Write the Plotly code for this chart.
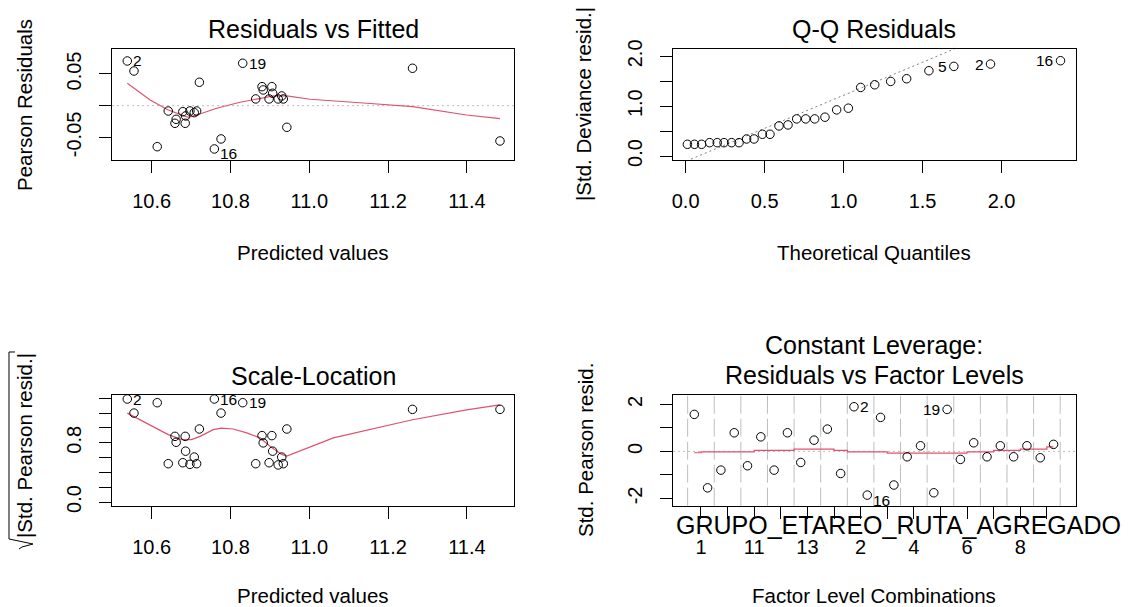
import numpy as np
import plotly.graph_objects as go

W, H = 1129, 607
FONT = "Liberation Sans, Arial, sans-serif"
RED = "#DF536B"
LIGHTGRAY = "#BEBEBE"
MIDGRAY = "#7F7F7F"

# ---- Residuals vs Fitted ----
fitted = [10.538, 10.555, 10.614, 10.642, 10.659, 10.662, 10.679, 10.685, 10.686, 10.697,
          10.708, 10.714, 10.721, 10.759, 10.776, 10.831, 10.864, 10.880, 10.883, 10.898,
          10.905, 10.907, 10.921, 10.930, 10.934, 10.943, 11.262, 11.484]
pearson_resid = [0.0705, 0.0547, -0.0647, -0.0084, -0.0278, -0.0215, -0.0095, -0.0278, -0.0162, -0.0084,
                 -0.0110, -0.0084, 0.0369, -0.0683, -0.0525, 0.0669, 0.0106, 0.0300, 0.0248, 0.0106,
                 0.0300, 0.0196, 0.0106, 0.0153, 0.0106, -0.0341, 0.0590, -0.0557]
rvf_smooth_x = [10.538, 10.596, 10.642, 10.680, 10.693, 10.722, 10.765, 10.824, 10.866, 10.909,
                10.943, 11.002, 11.146, 11.262, 11.399, 11.484]
rvf_smooth_y = [0.0353, 0.0090, -0.0068, -0.0162, -0.0183, -0.0131, -0.0041, 0.0054, 0.0101, 0.0153,
                0.0153, 0.0101, 0.0038, -0.0016, -0.0147, -0.0205]
rvf_labels = [(0, "2"), (13, "16"), (15, "19")]

# ---- Q-Q Residuals (half-normal) ----
qq_theoretical = [0.011, 0.056, 0.101, 0.152, 0.200, 0.243, 0.291, 0.338, 0.386, 0.433,
                  0.486, 0.534, 0.591, 0.648, 0.703, 0.760, 0.817, 0.882, 0.956, 1.030,
                  1.108, 1.197, 1.298, 1.399, 1.540, 1.698, 1.930, 2.373]
qq_abs_dev_resid = [0.235, 0.235, 0.235, 0.268, 0.268, 0.268, 0.268, 0.268, 0.342, 0.342,
                    0.436, 0.436, 0.604, 0.624, 0.745, 0.745, 0.745, 0.779, 0.926, 0.960,
                    1.376, 1.430, 1.497, 1.551, 1.712, 1.799, 1.846, 1.913]
qq_line_intercept = -0.108
qq_line_slope = 1.327
qq_labels = [(25, "5"), (26, "2"), (27, "16")]

# ---- Scale-Location ----
sqrt_abs_std_resid = [1.39, 1.20, 1.34, 0.517, 0.886, 0.806, 0.53, 0.886, 0.686, 0.508,
                      0.606, 0.517, 0.985, 1.39, 1.20, 1.34, 0.517, 0.896, 0.798, 0.53,
                      0.896, 0.686, 0.50, 0.606, 0.517, 0.985, 1.25, 1.25]
sl_smooth_x = [10.538, 10.596, 10.642, 10.676, 10.701, 10.723, 10.756, 10.777, 10.807, 10.841,
               10.875, 10.900, 10.930, 10.943, 11.061, 11.262, 11.399, 11.484]
sl_smooth_y = [1.199, 1.043, 0.909, 0.842, 0.842, 0.886, 0.976, 0.998, 0.985, 0.932,
               0.865, 0.753, 0.642, 0.619, 0.865, 1.110, 1.243, 1.310]
sl_labels = [(0, "2"), (13, "16"), (15, "19")]

# ---- Residuals vs Factor Levels ----
factor_name = "GRUPO_ETAREO_RUTA_AGREGADO"
factor_levels = ["1", "10", "11", "12", "13", "14", "2", "3", "4", "5", "6", "7", "8", "9"]
factor_std_resid = [1.574, -1.55, -0.796, 0.793, -0.61, 0.62, -0.796, 0.793, -0.47, 0.48,
                    0.949, -0.94, 1.90, -1.86, 1.447, -1.43, -0.23, 0.24, -1.76, 1.787,
                    -0.34, 0.366, -0.23, 0.24, -0.23, 0.24, -0.27, 0.30]
factor_smooth = [-0.058, -0.016, -0.016, -0.016, -0.016, 0.04, 0.04, 0.04, 0.098, 0.098,
                 0.098, 0.04, -0.016, -0.016, -0.016, -0.072, -0.072, -0.072, -0.072, -0.072,
                 -0.072, -0.016, -0.016, 0.04, 0.04, 0.098, 0.098, 0.197]
rfl_labels = [(12, "2"), (13, "16"), (19, "19")]

obs_per_level = 2
obs_pos = np.arange(len(factor_std_resid))
level_ticks = obs_per_level * (np.arange(len(factor_levels)) + 0.5) - 0.5
level_bounds = obs_per_level * np.arange(len(factor_levels) + 1) - 0.5
level_text = [lv if i % 2 == 0 else "" for i, lv in enumerate(factor_levels)]

# ---- panel geometry (pixels) ----
COLS = [(112, 514), (673, 1075.5)]
ROWS = [(49, 160), (395, 505.7)]


def xdom(c):
    return [COLS[c][0] / W, COLS[c][1] / W]


def ydom(r):
    return [1 - ROWS[r][1] / H, 1 - ROWS[r][0] / H]


def px(x, y):
    return x / W, 1 - y / H


fig = go.Figure()

marker = dict(symbol="circle-open", size=8.5, color="black", line=dict(width=1, color="black"))


def points(x, y, ax):
    fig.add_trace(go.Scatter(x=x, y=y, mode="markers", marker=marker, xaxis="x" + ax, yaxis="y" + ax,
                             hoverinfo="skip", showlegend=False))


def smooth(x, y, ax, shape="linear"):
    fig.add_trace(go.Scatter(x=x, y=y, mode="lines", line=dict(color=RED, width=1.2, shape=shape),
                             xaxis="x" + ax, yaxis="y" + ax, hoverinfo="skip", showlegend=False))


# panel 1
smooth(rvf_smooth_x, rvf_smooth_y, "")
points(fitted, pearson_resid, "")
# panel 2
qq_x_line = [-0.2, 2.6]
fig.add_trace(go.Scatter(x=qq_x_line, y=[qq_line_intercept + qq_line_slope * v for v in qq_x_line],
                         mode="lines", line=dict(color=MIDGRAY, width=1, dash="2px,3px"),
                         xaxis="x2", yaxis="y2", hoverinfo="skip", showlegend=False))
points(qq_theoretical, qq_abs_dev_resid, "2")
# panel 3
smooth(sl_smooth_x, sl_smooth_y, "3")
points(fitted, sqrt_abs_std_resid, "3")
# panel 4
smooth(obs_pos, factor_smooth, "4", shape="hvh")
points(obs_pos, factor_std_resid, "4")

shapes = []
# dotted zero lines
for ax in ["", "4"]:
    shapes.append(dict(type="line", xref=("x" + ax) + " domain", yref="y" + ax, x0=0, x1=1, y0=0, y1=0,
                       line=dict(color=LIGHTGRAY, width=1, dash="2px,3px"), layer="below"))
# level boundaries
for b in level_bounds:
    shapes.append(dict(type="line", xref="x4", yref="y4 domain", x0=b, x1=b, y0=0, y1=1,
                       line=dict(color=LIGHTGRAY, width=1, dash="18px,5px"), layer="below"))

annotations = []


def label_points(xs, ys, items, ax, side):
    for idx, txt in items:
        neg = ys[idx] < 0
        annotations.append(dict(x=xs[idx], y=ys[idx], xref="x" + ax, yref="y" + ax, text=txt,
                                showarrow=False, borderpad=0,
                                xanchor="left" if side[idx] == "r" else "right",
                                xshift=5 if side[idx] == "r" else -6,
                                yshift=-5 if neg else 0,
                                font=dict(family=FONT, size=15.5, color="black")))


label_points(fitted, pearson_resid, rvf_labels, "", {0: "r", 13: "r", 15: "r"})
label_points(qq_theoretical, qq_abs_dev_resid, qq_labels, "2", {25: "l", 26: "l", 27: "l"})
label_points(fitted, sqrt_abs_std_resid, sl_labels, "3", {0: "r", 13: "r", 15: "r"})
label_points(list(obs_pos), factor_std_resid, rfl_labels, "4", {12: "r", 13: "r", 19: "l"})


def text(x, y, s, size=20.5, angle=0, xanchor="center"):
    xp, yp = px(x, y)
    annotations.append(dict(x=xp, y=yp, xref="paper", yref="paper", text=s, showarrow=False,
                            textangle=angle, xanchor=xanchor, yanchor="middle", borderpad=0,
                            font=dict(family=FONT, size=size, color="black")))


# titles
text(313, 29, "Residuals vs Fitted", size=25)
text(874, 29, "Q-Q Residuals", size=25)
text(313, 376, "Scale-Location", size=25)
text(874, 345, "Constant Leverage:", size=25)
text(874, 375, "Residuals vs Factor Levels", size=25)
# axis titles
text(313, 252, "Predicted values")
text(874, 252, "Theoretical Quantiles")
text(313, 595, "Predicted values")
text(874, 595, "Factor Level Combinations")
text(24, 105, "Pearson Residuals", angle=-90)
text(584, 104, "|Std. Deviance resid.|", angle=-90)
text(24, 446, "|Std. Pearson resid.|", angle=-90)
text(585, 450, "Std. Pearson resid.", angle=-90)
text(675, 525, factor_name, size=25, xanchor="left")

# radical sign for the scale-location axis title
rad = [(19, 549), (22, 547), (33, 544), (9, 539), (9, 352), (15, 352)]
path = "M " + " L ".join(f"{px(a, b)[0]:.5f},{px(a, b)[1]:.5f}" for a, b in rad)
shapes.append(dict(type="path", xref="paper", yref="paper", path=path, line=dict(color="black", width=1)))


def axis(c, r, rng, tickvals, ticktext, is_y, anchor):
    d = dict(domain=ydom(r) if is_y else xdom(c), range=rng, tickvals=tickvals, ticktext=ticktext,
             showline=True, mirror=True, linecolor="black", linewidth=1,
             ticks="outside", ticklen=12, tickwidth=1, tickcolor="black",
             showgrid=False, zeroline=False, anchor=anchor, fixedrange=True, automargin=False,
             tickfont=dict(family=FONT, size=20, color="black"))
    if is_y:
        d.update(tickangle=-90, ticklabelstandoff=10)
    else:
        d.update(tickangle=0, ticklabelstandoff=11)
    return d


pv_ticks = [10.6, 10.8, 11.0, 11.2, 11.4]
pv_text = ["10.6", "10.8", "11.0", "11.2", "11.4"]
fig.update_layout(
    template="none",
    width=W, height=H, margin=dict(l=0, r=0, t=0, b=0, pad=0, autoexpand=False),
    paper_bgcolor="white", plot_bgcolor="white", showlegend=False,
    xaxis=axis(0, 0, [10.4992, 11.5196], pv_ticks, pv_text, False, "y"),
    yaxis=axis(0, 0, [-0.0857, 0.0894], [-0.05, 0, 0.05], ["-0.05", "", "0.05"], True, "x"),
    xaxis2=axis(1, 0, [-0.08, 2.468], [0, 0.5, 1, 1.5, 2], ["0.0", "0.5", "1.0", "1.5", "2.0"], False, "y2"),
    yaxis2=axis(1, 0, [-0.08, 2.148], [0, 0.5, 1, 1.5, 2], ["0.0", "", "1.0", "", "2.0"], True, "x2"),
    xaxis3=axis(0, 1, [10.4992, 11.5196], pv_ticks, pv_text, False, "y3"),
    yaxis3=axis(0, 1, [-0.05, 1.444], [0, 0.2, 0.4, 0.6, 0.8, 1.0, 1.2, 1.4],
                ["0.0", "", "", "", "0.8", "", "", ""], True, "x3"),
    xaxis4=axis(1, 1, [-1.6, 28.65], list(level_ticks), level_text, False, "y4"),
    yaxis4=axis(1, 1, [-2.31, 2.40], [-2, -1, 0, 1, 2], ["-2", "", "0", "", "2"], True, "x4"),
    shapes=shapes, annotations=annotations,
)

fig.write_html("out.html")
